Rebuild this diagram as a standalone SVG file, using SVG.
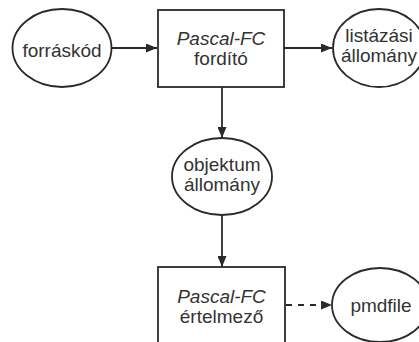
<svg xmlns="http://www.w3.org/2000/svg" width="419" height="342" viewBox="0 0 419 342">
<style>
.shape{fill:#fff;stroke:#2a2a2a;stroke-width:1.8}
.edge{fill:none;stroke:#2a2a2a;stroke-width:1.8}
.dash{stroke-dasharray:6 6}
text{font-family:"Liberation Sans",Arial,sans-serif;font-size:19px;fill:#333;text-anchor:middle}
.it{font-style:italic}
</style>
<defs>
<marker id="ah" markerWidth="11" markerHeight="9" refX="11" refY="4.5" orient="auto" markerUnits="userSpaceOnUse">
<path d="M0,0 L11,4.5 L0,9 Z" fill="#2a2a2a"/>
</marker>
</defs>
<rect width="419" height="342" fill="#fff"/>
<g id="connectors">
<line class="edge" x1="112" y1="48" x2="157" y2="48" marker-end="url(#ah)"/>
<line class="edge" x1="284" y1="48" x2="332" y2="48" marker-end="url(#ah)"/>
<line class="edge" x1="222" y1="87" x2="222" y2="138" marker-end="url(#ah)"/>
<line class="edge" x1="222" y1="215" x2="222" y2="267" marker-end="url(#ah)"/>
<line class="edge dash" x1="286" y1="305" x2="332" y2="305" marker-end="url(#ah)"/>
</g>
<g id="forraskod">
<ellipse class="shape" cx="62" cy="48" rx="49.5" ry="39"/>
<text x="62" y="57">forráskód</text>
</g>
<g id="fordito">
<rect class="shape" x="158" y="10" width="126" height="77"/>
<text class="it" x="221" y="45">Pascal-FC</text>
<text x="221" y="65">fordító</text>
</g>
<g id="listazasi">
<ellipse class="shape" cx="379" cy="48" rx="46" ry="39"/>
<text x="379" y="42">listázási</text>
<text x="379" y="62">állomány</text>
</g>
<g id="objektum">
<ellipse class="shape" cx="222" cy="176.5" rx="50" ry="38.5"/>
<text x="222" y="171">objektum</text>
<text x="222" y="191">állomány</text>
</g>
<g id="ertelmezo">
<rect class="shape" x="158" y="267" width="127" height="90"/>
<text class="it" x="221.5" y="303">Pascal-FC</text>
<text x="221.5" y="323">értelmező</text>
</g>
<g id="pmdfile">
<ellipse class="shape" cx="380" cy="305" rx="48" ry="37"/>
<text x="381" y="312">pmdfile</text>
</g>
</svg>
